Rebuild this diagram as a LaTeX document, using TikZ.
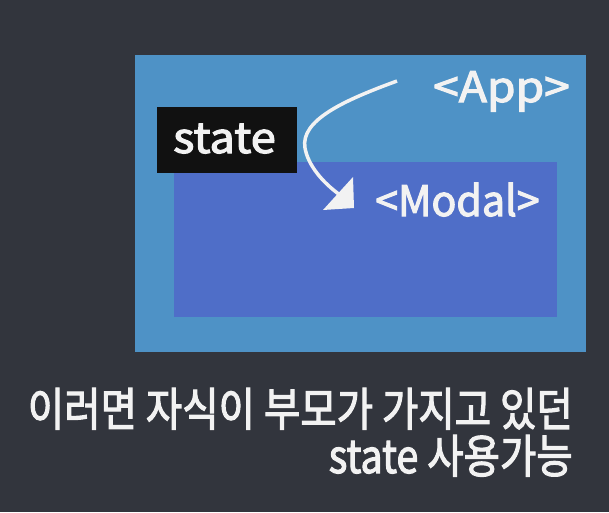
\documentclass[tikz,border=0pt]{standalone}
\usepackage{fontspec}
\setmainfont{Noto Sans CJK KR}
\newfontfamily\medfont{Noto Sans CJK KR}[FakeBold=2.5]
\definecolor{bgc}{HTML}{32353D}
\definecolor{outerc}{HTML}{4E92C6}
\definecolor{innerc}{HTML}{4F6EC8}
\definecolor{statec}{HTML}{111111}
\definecolor{txtc}{HTML}{F2F2F2}
\tikzset{
  lbl/.style={text=txtc, inner sep=0pt, font=\fontsize{42}{42}\medfont},
  kor/.style={text=txtc, inner sep=0pt, anchor=base east, font=\fontsize{46}{46}\medfont},
}
\begin{document}
\begin{tikzpicture}[x=1pt,y=-1pt]
\fill[bgc] (0,0) rectangle (609,512);
\useasboundingbox (0,0) rectangle (609,512);
\fill[outerc] (135,55) rectangle (586,352);
\fill[innerc] (174,162) rectangle (557,317);
\node[fill=statec, minimum width=140pt, minimum height=66pt, inner sep=0pt] (statebox) at (227,140) {};
\node[lbl, anchor=base west] (state) at (173,153) {\scalebox{1.08}[1]{state}};
\node[lbl, anchor=base west] (app) at (433,102) {\scalebox{1.1}[1]{<App>}};
\node[lbl, anchor=base west] (modal) at (375,216) {\scalebox{0.98}[1]{<Modal>}};
\coordinate (s) at (397,81);
\coordinate (e) at (340,195);
\draw[txtc, line width=3.5pt] (s) .. controls (345,100) and (300,120) .. (305,148) .. controls (308,165) and (322,182) .. (e);
\fill[txtc] (323,210) -- (354,208) -- (353,177) -- cycle;
\node[kor] (l1) at (573,426) {\scalebox{0.86}[1]{이러면 자식이 부모가 가지고 있던}};
\node[kor] (l2) at (573,473) {\scalebox{0.86}[1]{state 사용가능}};
\end{tikzpicture}
\end{document}
